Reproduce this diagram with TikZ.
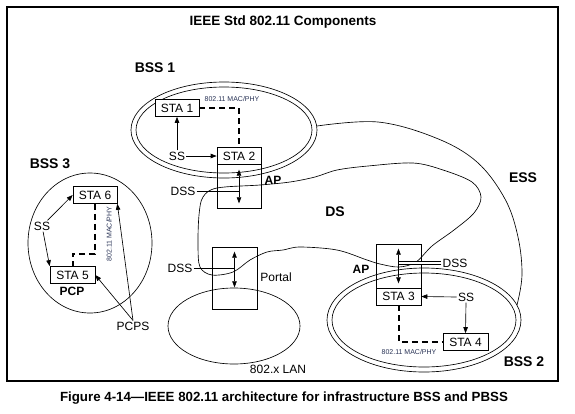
\documentclass[tikz,border=0pt]{standalone}
\usepackage{fontspec}
\setmainfont{Liberation Sans}
\usetikzlibrary{arrows.meta,calc}
\definecolor{smalltext}{RGB}{40,50,85}
\begin{document}
\begin{tikzpicture}[x=1pt,y=-1pt,
  line width=0.65pt,
  arr/.style={-{Triangle[length=6pt,width=4.5pt]}},
  darr/.style={{Triangle[length=6pt,width=4.5pt]}-{Triangle[length=6pt,width=4.5pt]}},
  stabox/.style={draw,fill=white,minimum width=44pt,minimum height=17pt,inner sep=0pt,font=\fontsize{12}{12}\selectfont},
  apbox/.style={draw,minimum width=44pt,minimum height=44pt,inner sep=0pt},
  lbl/.style={inner sep=1pt,font=\fontsize{12}{12}\selectfont},
  blbl/.style={inner sep=1pt,font=\fontsize{12}{12}\selectfont\bfseries},
  big/.style={inner sep=1pt,font=\fontsize{14}{14}\selectfont\bfseries},
  tiny/.style={inner sep=0pt,text=smalltext,font=\fontsize{7}{7}\selectfont},
  dashbold/.style={line width=2pt,dash pattern=on 6pt off 4pt}
]
\useasboundingbox (0,0) rectangle (575,413);
\draw[line width=1.1pt] (7,7) rectangle (558,381);
\node[inner sep=0pt,font=\fontsize{13.5}{13.5}\selectfont\bfseries] (title) at (283,22) {IEEE Std 802.11 Components};
\node[inner sep=0pt,font=\fontsize{13.3}{13.3}\selectfont\bfseries] (caption) at (284,398) {Figure 4-14---IEEE 802.11 architecture for infrastructure BSS and PBSS};

% ellipses
\draw (224,130) ellipse [x radius=93pt, y radius=48pt];
\draw (224,130) ellipse [x radius=88pt, y radius=43pt];
\draw (424,320) ellipse [x radius=97pt, y radius=52pt];
\draw (424,320) ellipse [x radius=92pt, y radius=47pt];
\draw (90,243) ellipse [x radius=62pt, y radius=70pt];
\draw (234,326) ellipse [x radius=66pt, y radius=38pt];

% DS curve
\draw plot[smooth cycle, tension=0.55] coordinates {
(199,215) (203,197) (217,188) (260,185) (290,182) (315,177) (337,170) (368,166)
(413,163) (443,170) (472,182) (481,197) (474,213) (454,230) (432,246) (416,262)
(399,267) (380,264) (367,260) (337,250) (300,247) (283,250) (267,252) (250,260)
(233,272) (212,275) (200,267) (198,245)};

% ESS curve
\draw plot[smooth, tension=0.6] coordinates {(317,126) (378,122) (436,138) (477,162) (505,199) (518,237) (522,275) (517,305)};

% labels
\node[big] (bss1) at (155,68) {BSS 1};
\node[big] (bss2) at (524,362) {BSS 2};
\node[big] (bss3) at (50,164) {BSS 3};
\node[big] (ess) at (523,178) {ESS};
\node[big] (ds) at (335,212) {DS};

% BSS 1
\node[stabox] (sta1) at (177,108) {STA 1};
\node[stabox] (sta2) at (239,156) {STA 2};
\node[apbox] (ap1) at (239,186) {};
\node[tiny] (mac1) at (232,99) {802.11 MAC/PHY};
\node[lbl] (ss1) at (177,156) {SS};
\node[lbl] (dss1) at (183,191) {DSS};
\node[blbl] (aplbl1) at (273,180) {AP};
\draw[dashbold] (sta1.east) -| (sta2.north);
\draw[arr] (ss1.north) -- (sta1.south);
\draw[arr] (ss1.east) -- (sta2.west);
\draw[darr] ([yshift=-6pt]ap1.north) -- ([yshift=5pt]ap1.south);
\draw (dss1.east) -- (dss1.east -| ap1.center);

% Portal and LAN
\node[draw,minimum width=45pt,minimum height=62pt,inner sep=0pt] (portal) at (234.5,278) {};
\node[lbl] (portallbl) at (276,277) {Portal};
\node[lbl] (dss3) at (180,268) {DSS};
\node[lbl] (lan) at (278,369) {802.x LAN};
\draw[darr] ([yshift=-5pt]portal.north) -- ([yshift=22pt]portal.south);
\draw (dss3.east) -- (dss3.east -| portal.center);

% BSS 2
\node[apbox,minimum width=45pt] (ap2) at (398.5,266) {};
\node[stabox,minimum width=45pt] (sta3) at (398.5,296.5) {STA 3};
\node[stabox,minimum width=45pt] (sta4) at (465.5,342) {STA 4};
\node[blbl] (aplbl2) at (361,269) {AP};
\node[lbl] (dss2) at (455,263) {DSS};
\node[lbl] (ss2) at (466,297) {SS};
\node[tiny] (mac2) at (409,352) {802.11 MAC/PHY};
\draw[darr] ([yshift=-5pt]ap2.north) -- ([yshift=5pt]ap2.south);
\draw[double,double distance=2.5pt,line width=0.6pt] (dss2.west) -- (dss2.west -| ap2.center);
\draw[arr] (ss2.west) -- (sta3.east);
\draw[arr] (ss2.south) -- (sta4.north);
\draw[dashbold] (sta3.south) |- (sta4.west);

% BSS 3
\node[stabox] (sta6) at (95,195) {STA 6};
\node[stabox,minimum width=45pt] (sta5) at (72.5,275) {STA 5};
\node[blbl] (pcp) at (72,291) {PCP};
\node[lbl] (ss3) at (42,226) {SS};
\node[lbl] (pcps) at (133,326) {PCPS};
\node[tiny,rotate=90] (mac3) at (109,234) {802.11 MAC/PHY};
\draw[arr] (ss3) -- (sta6.west);
\draw[arr] (ss3) -- (sta5.north west);
\draw[dashbold] (sta6.south) -- ++(0,50) -| (sta5.north);
\draw[arr] (pcps.north) -- (sta5.east);
\draw[arr] (pcps.north) -- (sta6.south east);
\end{tikzpicture}
\end{document}
